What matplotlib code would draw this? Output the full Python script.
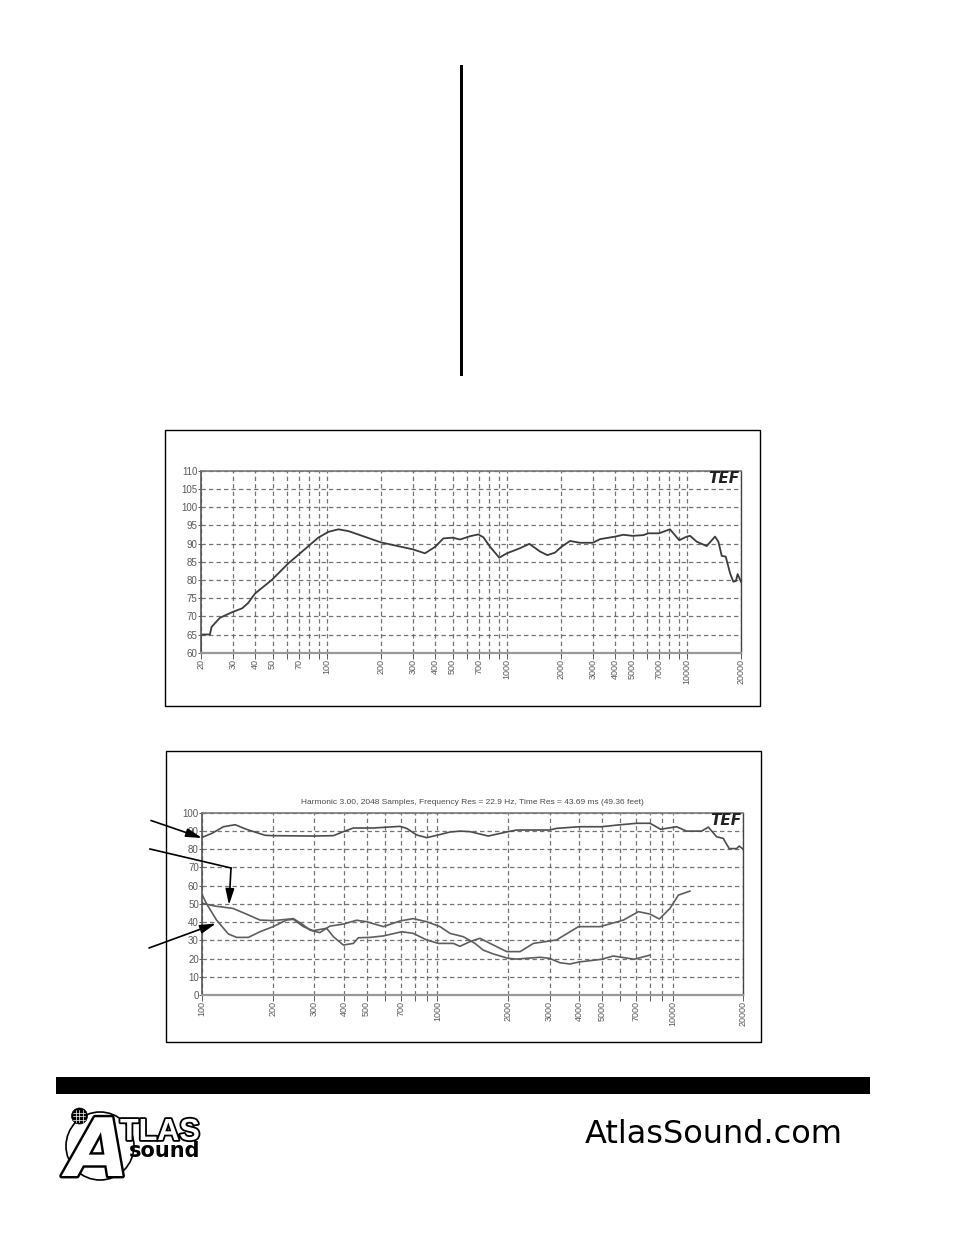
import matplotlib
matplotlib.use("Agg")
import matplotlib.pyplot as plt
import matplotlib.patheffects as pe
from matplotlib.patches import Circle, Rectangle
from matplotlib.ticker import FixedLocator, FixedFormatter, NullLocator

W, H = 954, 1235

# top chart: frequency response
resp_freq = [20, 20, 22.4, 22.9, 25.5, 30, 33.9, 36.6, 40, 49.5, 61, 71, 89.6, 102, 116, 132, 200,
             300, 351, 400, 444, 500, 550, 624, 695, 741, 807, 908, 1000, 1183, 1334, 1529, 1679,
             1853, 2000, 2245, 2550, 3000, 3296, 4000, 4437, 5000, 5730, 6110, 7000, 8060, 9080,
             10000, 10430, 11350, 12890, 14350, 14970, 15630, 16450, 17400, 18130, 18750, 19150, 20000]
resp_db = [60, 65, 65, 67.1, 69.6, 71.2, 72.2, 73.7, 76.3, 80, 84.5, 87.3, 91.6, 93.2, 93.9, 93.4, 90.3,
           88.4, 87.3, 89.1, 91.4, 91.6, 91.1, 92, 92.5, 91.7, 89.1, 86.1, 87.3, 88.7, 89.9, 87.8, 86.8,
           87.5, 89, 90.7, 90.2, 90.2, 91.2, 91.9, 92.4, 92.1, 92.3, 92.8, 92.8, 93.9, 90.9,
           91.9, 92.1, 90.5, 89.3, 91.9, 90.5, 86.6, 86.4, 81.8, 79.5, 79.7, 81.6, 79.5]

# bottom chart: fundamental and two harmonics
fund_freq = [100, 110, 123, 138, 154, 185, 200, 296, 361, 398, 439, 534, 693, 740, 816, 900, 1009,
             1131, 1247, 1377, 1645, 2000, 2172, 3000, 3212, 4000, 5000, 5794, 7047, 8017, 8900,
             10400, 11480, 13300, 14200, 15400, 16430, 17420, 18720, 19230, 20000]
fund_db = [86.5, 88.7, 92.3, 93.4, 90.9, 87.6, 87.4, 87.2, 87.4, 89.6, 91.6, 91.6, 92.5, 91.4, 87.8, 86.3, 87.8,
           89.4, 89.9, 89.6, 87.2, 89.6, 90.5, 90.5, 91.4, 92.3, 92.3, 93.2, 94.2, 94.2, 90.9,
           92.3, 89.9, 89.9, 92.1, 86.8, 85.9, 80.3, 80.3, 81.7, 79.9]

h2_freq = [100, 113, 135, 154, 176, 200, 228, 244, 269, 287, 316, 349, 398, 453, 500, 589, 693, 789, 900,
           1026, 1131, 1288, 1445, 1568, 1730, 2000, 2172, 2735, 3000, 3320, 3664, 4000, 5000, 5598, 6871, 8017]
h2_db = [50.3, 48.8, 47.5, 44.4, 41.1, 40.8, 41.5, 41.9, 38.4, 35.6, 34.2, 37.8, 38.9, 41, 40.2, 37.5, 40.6, 41.9, 40.2,
         37.5, 33.8, 32, 28.3, 24.6, 22.5, 20.1, 19.7, 20.7, 20.1, 17.7, 17, 18.1, 19.6, 21.4, 19.6, 21.9]

h3_freq = [100, 104, 115, 129, 140, 157, 176, 200, 228, 244, 269, 296, 338, 361, 398, 439, 461, 516, 589, 705, 789,
           900, 1009, 1169, 1247, 1377, 1517, 1730, 1972, 2249, 2561, 3212, 3981, 4920, 6180, 7161, 8017, 8790,
           9750, 10590, 11860]
h3_db = [54.8, 50.3, 41.1, 33.5, 31.6, 31.6, 34.7, 37.5, 41.1, 41.5, 37.5, 35.3, 36.6, 32, 27.4, 28.3, 31.4, 31.6, 32.4, 34.7, 33.8,
         30.2, 28.3, 28.3, 26.7, 29.3, 31.1, 27.4, 23.8, 23.8, 28.3, 30.2, 37.5, 37.5, 41.1, 45.7, 44.4, 41.7,
         47.5, 54.8, 57]

top_grid_freq = [20, 30, 40, 50, 60, 70, 80, 90, 100, 200, 300, 400, 500, 600, 700, 800, 900,
                 1000, 2000, 3000, 4000, 5000, 6000, 7000, 8000, 9000, 10000, 20000]
top_labels = ["20", "30", "40", "50", "", "70", "", "", "100", "200", "300", "400", "500", "", "700", "", "",
              "1000", "2000", "3000", "4000", "5000", "", "7000", "", "", "10000", "20000"]
top_yticks = list(range(60, 111, 5))

bot_grid_freq = top_grid_freq[8:]
bot_labels = top_labels[8:]
bot_yticks = list(range(0, 101, 10))

chart_title = "Harmonic 3.00, 2048 Samples, Frequency Res = 22.9 Hz, Time Res = 43.69 ms (49.36 feet)"

GRID = "#5c5c5c"
LABEL = "#5a5a5a"


def px_axes(fig, left, top, right, bottom):
    return fig.add_axes([left / W, 1 - bottom / H, (right - left) / W, (bottom - top) / H])


def setup_chart(ax, xlim, ylim, grid_freq, labels, yticks):
    ax.set_xscale("log")
    ax.set_xlim(*xlim)
    ax.set_ylim(*ylim)
    ax.xaxis.set_major_locator(FixedLocator(grid_freq))
    ax.xaxis.set_major_formatter(FixedFormatter(labels))
    ax.xaxis.set_minor_locator(NullLocator())
    ax.set_yticks(yticks)
    ax.grid(True, color=GRID, lw=0.9, ls=(0, (3.5, 2.5)), alpha=0.85)
    ax.tick_params(axis="x", length=4, width=0.7, color=GRID, labelsize=6.5, labelcolor=LABEL,
                   labelrotation=90, pad=0.5)
    ax.tick_params(axis="y", length=2, width=0.7, color=GRID, labelsize=7, labelcolor=LABEL, pad=0.5)
    for name, color, lw in [("top", "#777777", 1.2), ("bottom", "#999999", 1.6),
                            ("left", "#555555", 1.2), ("right", "#444444", 1.0)]:
        ax.spines[name].set_color(color)
        ax.spines[name].set_linewidth(lw)
    ax.text(0.997, 0.998, "TEF", transform=ax.transAxes, ha="right", va="top", fontsize=11,
            family="DejaVu Sans", weight="bold", style="italic", color="#222222")


plt.rcParams["font.family"] = ["Liberation Sans", "DejaVu Sans"]
fig = plt.figure(figsize=(W / 100, H / 100), dpi=100, facecolor="white")

ax_top = px_axes(fig, 201, 470.7, 741, 652.7)
setup_chart(ax_top, (20, 20000), (60, 110), top_grid_freq, top_labels, top_yticks)
ax_top.plot(resp_freq, resp_db, color="#3c3c3c", lw=1.3)

ax_bot = px_axes(fig, 202.3, 812.7, 743.3, 995)
setup_chart(ax_bot, (100, 20000), (0, 100), bot_grid_freq, bot_labels, bot_yticks)
ax_bot.plot(fund_freq, fund_db, color="#4d4d4d", lw=1.2)
ax_bot.plot(h2_freq, h2_db, color="#5e5e5e", lw=1.2)
ax_bot.plot(h3_freq, h3_db, color="#5e5e5e", lw=1.2)

# page furniture in pixel coordinates, on top of the charts
page = fig.add_axes([0, 0, 1, 1], zorder=5)
page.set_xlim(0, W)
page.set_ylim(H, 0)
page.axis("off")
page.patch.set_alpha(0)

page.text(472, 803, chart_title, ha="center", va="center", fontsize=6, color="#4a4a4a")
page.add_patch(Rectangle((165.5, 430), 595, 276, fill=False, ec="black", lw=1))
page.add_patch(Rectangle((166.5, 750.5), 595, 291, fill=False, ec="black", lw=1))
page.add_patch(Rectangle((460, 65), 3, 311, fc="black", ec="none"))
page.add_patch(Rectangle((56, 1077), 814, 17, fc="black", ec="none"))

arrow = dict(arrowstyle="-|>,head_length=0.95,head_width=0.26", color="black", lw=1.2, shrinkA=0, shrinkB=0)
page.annotate("", xy=(202, 838), xytext=(151, 820.5), arrowprops=arrow)
page.plot([150, 231], [849, 868], color="black", lw=1.2)
page.annotate("", xy=(229, 905), xytext=(231, 868), arrowprops=arrow)
page.annotate("", xy=(216, 923.5), xytext=(149, 948), arrowprops=arrow)

# logo
page.add_patch(Circle((100, 1146), 34, fill=False, ec="black", lw=1.2))
page.add_patch(Circle((79.5, 1116), 8, fc="black", ec="black", lw=0.5))
for dx in (-3.5, 0, 3.5):
    page.plot([79.5 + dx, 79.5 + dx], [1110, 1122], color="white", lw=0.5)
for dy in (-3.5, 0, 3.5):
    page.plot([73.5, 85.5], [1116 + dy, 1116 + dy], color="white", lw=0.5)
page.text(98, 1176, "A", ha="center", va="baseline", fontsize=58, weight="bold", style="italic",
          family="DejaVu Sans", color="white",
          path_effects=[pe.withStroke(linewidth=3.5, foreground="black")])
page.text(120, 1140, "TLAS", ha="left", va="baseline", fontsize=22, weight="bold",
          family="Liberation Sans", color="white",
          path_effects=[pe.withStroke(linewidth=2.6, foreground="black")])
page.text(129, 1157, "sound", ha="left", va="baseline", fontsize=15, weight="bold",
          family="DejaVu Sans", color="black")
page.add_patch(Circle((114, 1163), 2.5, fill=False, ec="black", lw=0.8))

page.text(585, 1143, "AtlasSound.com", ha="left", va="baseline", fontsize=23,
          family="DejaVu Sans", color="black")

fig.savefig("out.png", dpi=100)
